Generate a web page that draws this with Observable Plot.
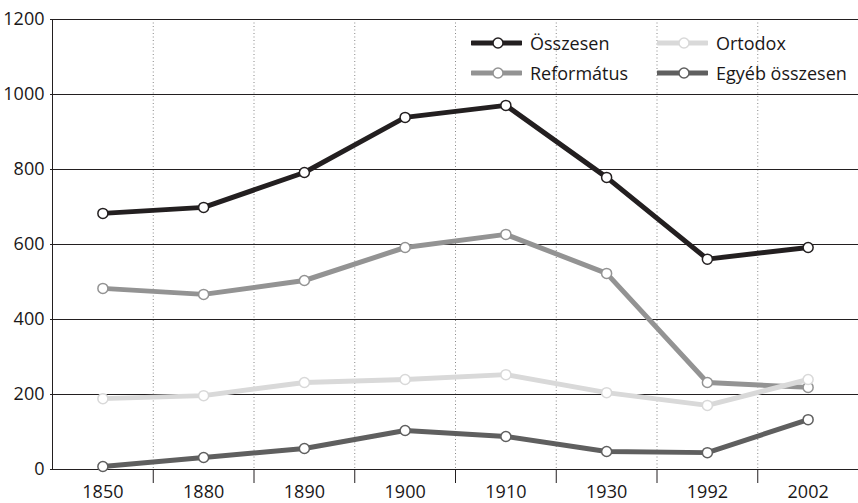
<!DOCTYPE html>
<html>
<head>
<meta charset="utf-8">
<script src="https://cdn.jsdelivr.net/npm/d3@7"></script>
<script src="https://cdn.jsdelivr.net/npm/@observablehq/plot@0.6"></script>
<style>
  html, body { margin: 0; padding: 0; background: #fff; }
  #wrap { position: relative; width: 858px; height: 503px; font-family: "Open Sans", sans-serif; }
  #wrap svg text { font-size: 18px; }
  #legend { position: absolute; left: 471px; top: 31px; font-size: 18px; color: #1a1718; }
  .item { position: absolute; white-space: nowrap; display: flex; align-items: center; height: 24px; }
  .item svg { margin-right: 8px; }
</style>
</head>
<body>
<div id="wrap"><div id="legend"></div></div>
<script>
const years = ["1850", "1880", "1890", "1900", "1910", "1930", "1992", "2002"];
const seriesNames = ["Összesen", "Református", "Ortodox", "Egyéb összesen"];
const osszesen   = [683, 699, 792, 939, 971, 779, 561, 592];
const reformatus = [483, 467, 504, 592, 627, 523, 232, 219];
const ortodox    = [189, 197, 232, 240, 253, 205, 171, 240];
const egyeb      = [8, 32, 56, 104, 88, 48, 45, 133];
const colors = ["#231f20", "#939393", "#d9d9d9", "#5f5f5f"];
const yTicks = [0, 200, 400, 600, 800, 1000, 1200];

const seriesValues = [osszesen, reformatus, ortodox, egyeb];
const data = [];
seriesNames.forEach((name, s) => {
  years.forEach((yr, i) => data.push({series: name, i, year: yr, value: seriesValues[s][i]}));
});
const boundaries = years.slice(1).map((_, i) => i + 0.5);
const centers = years.map((_, i) => i);

const chart = Plot.plot({
  width: 858,
  height: 503,
  marginLeft: 52,
  marginRight: 0,
  marginTop: 19,
  marginBottom: 34,
  style: {fontFamily: "Open Sans, sans-serif", fontSize: "18px", color: "#1a1718", background: "#fff"},
  x: {type: "linear", domain: [-0.5, years.length - 0.5]},
  y: {domain: [0, 1200]},
  color: {domain: seriesNames, range: colors},
  marks: [
    Plot.gridX(boundaries, {stroke: "#888", strokeOpacity: 1, strokeDasharray: "1,2.5", strokeWidth: 1}),
    Plot.gridY(yTicks, {stroke: "#231f20", strokeOpacity: 1, strokeWidth: 1}),
    Plot.frame({anchor: "left", stroke: "#231f20"}),
    Plot.axisY({ticks: yTicks, tickSize: 2, tickPadding: 6, tickFormat: d3.format("d"), label: null, fill: "#1a1718", stroke: "#231f20", fontSize: 18}),
    Plot.axisX({ticks: boundaries, tickSize: 14, tickFormat: () => "", label: null, stroke: "#231f20"}),
    Plot.axisX({ticks: centers, tickSize: 0, tickPadding: 16, tickFormat: i => years[i], label: null, fill: "#1a1718", fontSize: 18}),
    Plot.line(data, {x: "i", y: "value", z: "series", stroke: "series", strokeWidth: 5, curve: "linear"}),
    Plot.dot(data, {x: "i", y: "value", stroke: "series", fill: "#fff", r: 5, strokeWidth: 1.5})
  ]
});
document.getElementById("wrap").prepend(chart);

const legend = document.getElementById("legend");
const positions = [[0, 0], [0, 30], [186, 0], [186, 30]];
seriesNames.forEach((name, s) => {
  const item = document.createElement("div");
  item.className = "item";
  item.style.left = positions[s][0] + "px";
  item.style.top = positions[s][1] + "px";
  item.innerHTML = `<svg width="51" height="14"><line x1="1" y1="7" x2="50" y2="7" stroke="${colors[s]}" stroke-width="5" stroke-linecap="round"/><circle cx="27" cy="7" r="5" fill="#fff" stroke="${colors[s]}" stroke-width="1.5"/></svg><span>${name}</span>`;
  legend.appendChild(item);
});
</script>
</body>
</html>
